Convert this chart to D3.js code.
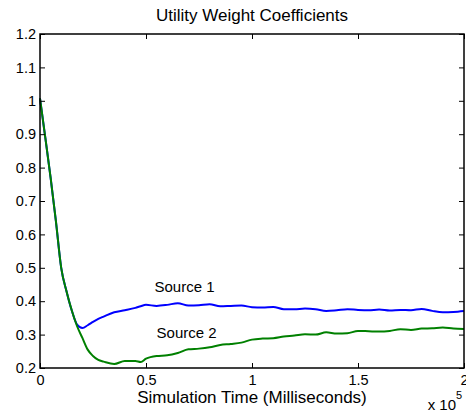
<!DOCTYPE html>
<html>
<head>
<meta charset="utf-8">
<title>Utility Weight Coefficients</title>
<script src="https://cdn.jsdelivr.net/npm/d3@7"></script>
<style>
  body { margin: 0; background: #fff; }
  text { font-family: "Liberation Sans", Arial, Helvetica, sans-serif; fill: #000; }
  .tick text { font-size: 14.5px; }
  .tick line { stroke: #000; }
</style>
</head>
<body>
<svg width="466" height="413"></svg>
<script>
// simulation time in milliseconds
var times = [0, 2500, 5000, 7500, 10000, 12500, 15000, 17500, 20000, 22500, 25000, 27500,
  30000, 35000, 40000, 45000, 47500, 50000, 55000, 60000, 65000, 70000, 75000, 80000, 85000,
  90000, 95000, 100000, 105000, 110000, 115000, 120000, 125000, 130000, 135000, 140000,
  145000, 150000, 155000, 160000, 165000, 170000, 175000, 180000, 185000, 190000, 195000, 200000];
var source1 = [1.007, 0.89, 0.77, 0.64, 0.50, 0.43, 0.372, 0.33, 0.32, 0.328, 0.338, 0.347,
  0.354, 0.367, 0.373, 0.38, 0.385, 0.389, 0.386, 0.389, 0.394, 0.387, 0.388, 0.391, 0.385,
  0.386, 0.387, 0.382, 0.381, 0.383, 0.376, 0.376, 0.378, 0.376, 0.371, 0.373,
  0.376, 0.374, 0.373, 0.375, 0.372, 0.374, 0.373, 0.377, 0.371, 0.367, 0.368, 0.371];
var source2 = [1.007, 0.89, 0.77, 0.64, 0.50, 0.43, 0.372, 0.325, 0.29, 0.255, 0.236, 0.224,
  0.219, 0.212, 0.221, 0.221, 0.218, 0.228, 0.236, 0.238, 0.245, 0.256, 0.258, 0.262, 0.269,
  0.272, 0.276, 0.285, 0.288, 0.289, 0.294, 0.297, 0.301, 0.300, 0.307, 0.303,
  0.304, 0.311, 0.310, 0.309, 0.311, 0.316, 0.314, 0.318, 0.319, 0.321, 0.318, 0.317];
var seriesNames = ["Source 1", "Source 2"];
var seriesColors = ["#0000ff", "#008000"];
var labelPos = [[54000, 0.428], [55000, 0.29]];
var xTicks = [0, 50000, 100000, 150000, 200000];
var yTicks = [0.2, 0.3, 0.4, 0.5, 0.6, 0.7, 0.8, 0.9, 1, 1.1, 1.2];

var svg = d3.select("svg"),
    margin = {top: 34, right: 2, bottom: 45, left: 40},
    width = +svg.attr("width") - margin.left - margin.right,
    height = +svg.attr("height") - margin.top - margin.bottom;

var x = d3.scaleLinear().domain([0, 200000]).range([0, width]);
var y = d3.scaleLinear().domain([0.2, 1.2]).range([height, 0]);

var g = svg.append("g").attr("transform", `translate(${margin.left},${margin.top})`);

// lines (blue first, green on top)
var line = d3.line()
    .x((d, i) => x(times[i]))
    .y(d => y(d))
    .curve(d3.curveMonotoneX);

[source1, source2].forEach((vals, k) => {
  g.append("path")
    .attr("fill", "none")
    .attr("stroke", seriesColors[k])
    .attr("stroke-width", 2)
    .attr("d", line(vals));
});

// axes with inward ticks, matlab box
var fmtX = d => d3.format("")(d / 100000);
g.append("g").attr("transform", `translate(0,${height})`)
  .call(d3.axisBottom(x).tickValues(xTicks).tickFormat(fmtX).tickSizeInner(-5).tickSizeOuter(0).tickPadding(7))
  .call(a => a.select(".domain").remove());
g.append("g")
  .call(d3.axisTop(x).tickValues(xTicks).tickFormat("").tickSizeInner(-5).tickSizeOuter(0))
  .call(a => a.select(".domain").remove());
g.append("g")
  .call(d3.axisLeft(y).tickValues(yTicks).tickFormat(d3.format("")).tickSizeInner(-5).tickSizeOuter(0).tickPadding(4))
  .call(a => a.select(".domain").remove());
g.append("g").attr("transform", `translate(${width},0)`)
  .call(d3.axisRight(y).tickValues(yTicks).tickFormat("").tickSizeInner(-5).tickSizeOuter(0))
  .call(a => a.select(".domain").remove());

g.selectAll(".tick text").attr("font-family", null).attr("font-size", null);

g.append("rect")
  .attr("width", width).attr("height", height)
  .attr("fill", "none").attr("stroke", "#000").attr("stroke-width", 1.5);

// series labels
seriesNames.forEach((name, k) => {
  g.append("text")
    .attr("x", x(labelPos[k][0]))
    .attr("y", y(labelPos[k][1]))
    .attr("font-size", "15px")
    .text(name);
});

// title and axis label
svg.append("text")
  .attr("x", margin.left + width / 2).attr("y", 21)
  .attr("text-anchor", "middle").attr("font-size", "17px")
  .text("Utility Weight Coefficients");
svg.append("text")
  .attr("x", margin.left + width / 2).attr("y", 403)
  .attr("text-anchor", "middle").attr("font-size", "17px")
  .text("Simulation Time (Milliseconds)");

// exponent marker
svg.append("text").attr("x", 456).attr("y", 410)
  .attr("text-anchor", "end").attr("font-size", "15px").text("x 10");
svg.append("text").attr("x", 456).attr("y", 399)
  .attr("font-size", "11px").text("5");
</script>
</body>
</html>
